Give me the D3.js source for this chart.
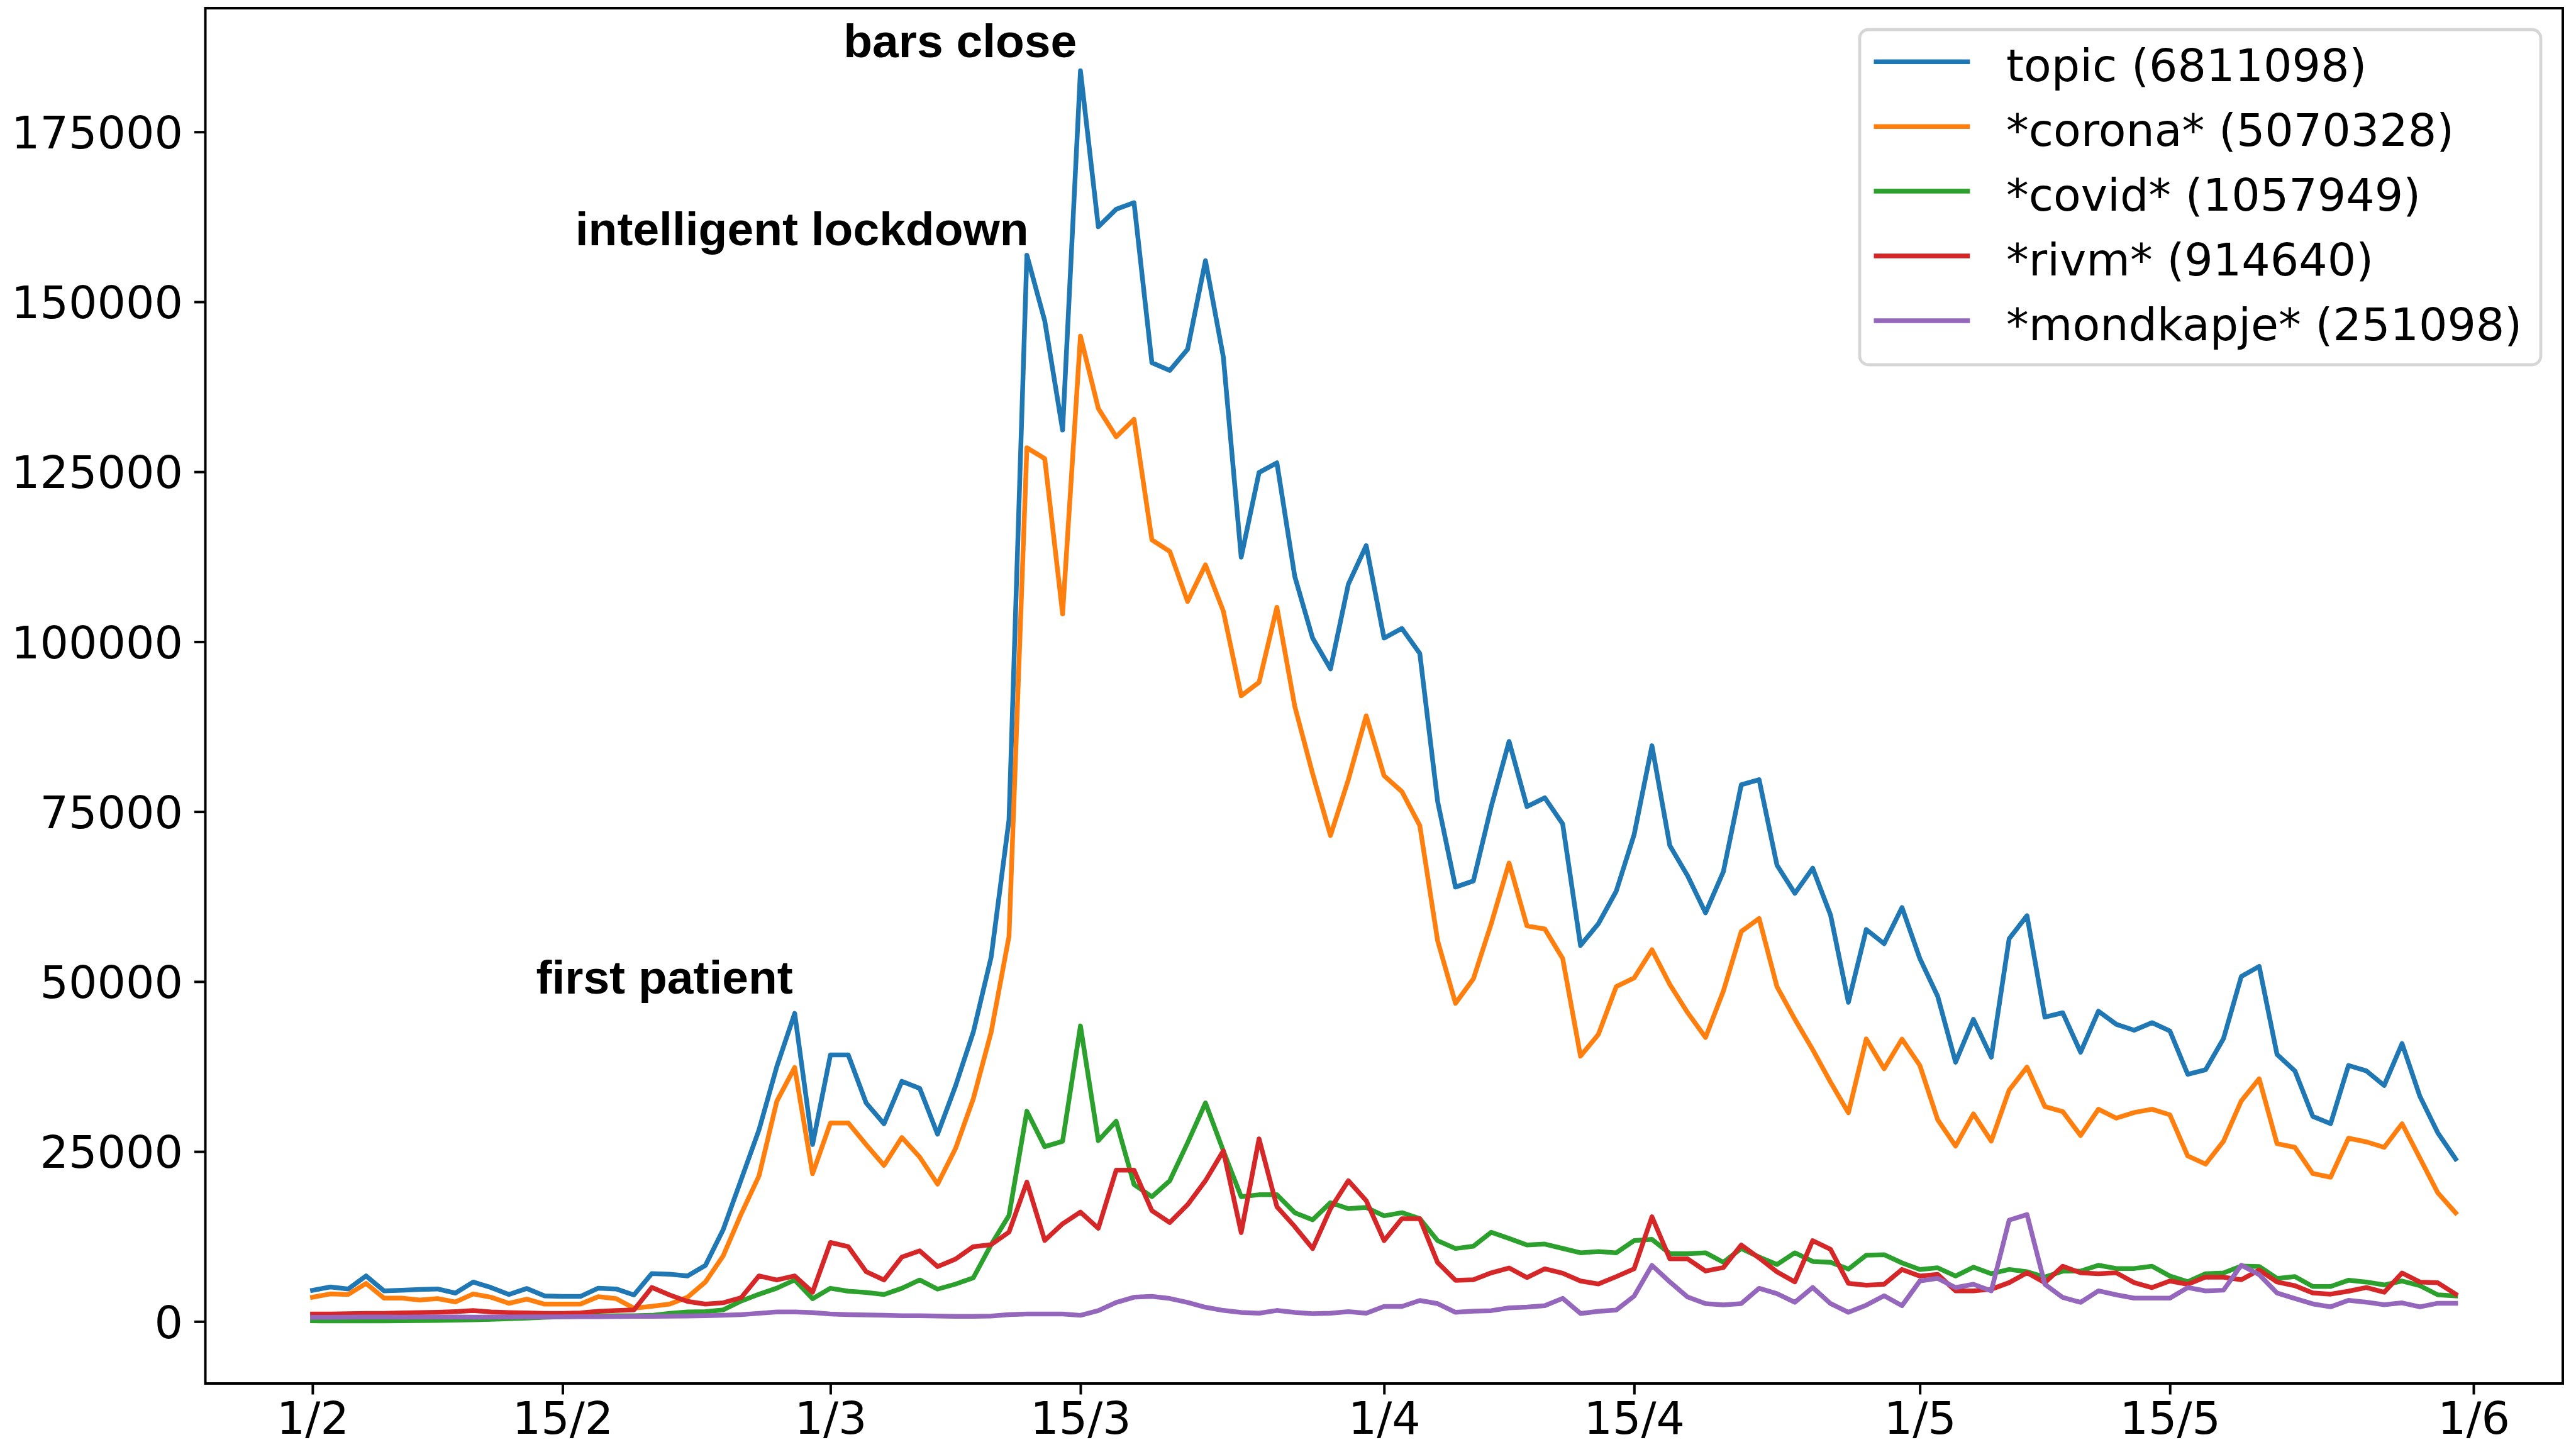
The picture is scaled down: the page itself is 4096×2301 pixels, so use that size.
<!DOCTYPE html>
<html>
<head>
<meta charset="utf-8">
<style>
  body { margin: 0; background: #fff; }
  .tick text { font-family: "DejaVu Sans", sans-serif; font-size: 71.5px; fill: #000; }
  .note { font-family: "Liberation Sans", Arial, sans-serif; font-weight: bold; font-size: 75px; }
  .legend text { font-family: "DejaVu Sans", sans-serif; font-size: 71.5px; }
</style>
<script src="https://cdn.jsdelivr.net/npm/d3@7"></script>
</head>
<body>
<script>
// daily counts, 1 Feb 2020 .. 31 May 2020
var startDay = "2020-02-01";

var topic = [4580, 5070, 4780, 6700, 4500, 4580, 4700, 4780, 4170, 5800,
  4990, 3970, 4850, 3760, 3680, 3680, 4900, 4780, 3900, 7050,
  6950, 6700, 8240, 13530, 20850, 28170, 37500, 45320, 26020, 39200,
  39200, 32150, 29080, 35330, 34290, 27550, 34600, 42560, 53600, 73820,
  156860, 147200, 131140, 184000, 161040, 163620, 164580, 141040, 139900, 143020,
  156050, 141890, 112430, 124890, 126310, 109600, 100530, 96000, 108460, 114130,
  100530, 101950, 98270, 76500, 63900, 64800, 75750, 85330, 75750, 77030,
  73200, 55320, 58510, 63300, 71600, 84690, 70000, 65540, 60110, 66170,
  78950, 79710, 67130, 62980, 66680, 59790, 46940, 57650, 55570, 60900,
  53390, 47820, 38140, 44440, 38870, 56300, 59690, 44780, 45410, 39600,
  45650, 43710, 42840, 43950, 42740, 36350, 37030, 41600, 50760, 52230,
  39270, 36860, 30170, 29090, 37660, 36860, 34720, 40880, 33110, 27760, 23900];

var corona = [3560, 4050, 3970, 5600, 3440, 3440, 3160, 3360, 2870, 4050,
  3560, 2670, 3280, 2550, 2550, 2550, 3640, 3360, 1940, 2220,
  2550, 3560, 5800, 9670, 15800, 21400, 32400, 37360, 21730, 29200,
  29200, 26020, 22950, 27060, 24180, 20200, 25410, 32760, 42560, 56660,
  128530, 126940, 104090, 144950, 134320, 130140, 132710, 114980, 113280, 105920,
  111300, 104500, 92040, 94020, 105060, 90500, 80580, 71480, 79700, 89100,
  80290, 77940, 72950, 56000, 46800, 50400, 58510, 67450, 58190, 57740,
  53400, 39030, 42230, 49250, 50530, 54680, 49570, 45420, 41780, 48610,
  57360, 59280, 49250, 44460, 39990, 35200, 30700, 41560, 37180, 41530,
  37660, 29670, 25800, 30540, 26530, 34030, 37420, 31610, 30880, 27350,
  31220, 29910, 30740, 31220, 30400, 24350, 23140, 26500, 32450, 35700,
  26150, 25610, 21760, 21220, 26950, 26420, 25610, 29090, 24010, 18920, 15970];

var covid = [90, 80, 70, 80, 90, 100, 120, 150, 200, 250,
  300, 400, 500, 600, 700, 750, 800, 850, 850, 900,
  1200, 1400, 1450, 1700, 3000, 4000, 4900, 6100, 3350, 4880,
  4450, 4270, 3960, 4880, 6100, 4750, 5490, 6410, 11300, 15600,
  30920, 25710, 26510, 43480, 26600, 29450, 20150, 18350, 20700, 26280,
  32150, 25100, 18350, 18640, 18640, 16000, 14950, 17470, 16590, 16770,
  15540, 16000, 15120, 11890, 10730, 11070, 13120, 12210, 11250, 11380,
  10740, 10100, 10290, 10100, 11890, 12080, 9980, 9980, 10100, 8700,
  10740, 9470, 8380, 10100, 8830, 8700, 7700, 9740, 9820, 8610,
  7650, 7890, 6680, 7980, 7020, 7650, 7310, 6530, 7400, 7400,
  8270, 7790, 7790, 8130, 6680, 5850, 7020, 7140, 8150, 8090,
  6330, 6600, 5150, 5150, 6060, 5800, 5370, 5950, 5260, 3920, 3760];

var rivm = [1100, 1100, 1150, 1200, 1200, 1250, 1300, 1350, 1450, 1600,
  1400, 1300, 1250, 1200, 1200, 1250, 1500, 1600, 1700, 5000,
  3900, 2950, 2550, 2750, 3500, 6700, 6100, 6700, 4300, 11620,
  11000, 7330, 6100, 9470, 10390, 8070, 9170, 11000, 11300, 13150,
  20500, 11920, 14370, 16090, 13700, 22250, 22250, 16300, 14540, 17180,
  20700, 25100, 13070, 26860, 16880, 13950, 10720, 16590, 20700, 17770,
  11890, 15120, 15120, 8660, 6050, 6140, 7150, 7870, 6460, 7740,
  7100, 5950, 5510, 6590, 7740, 15400, 9210, 9210, 7420, 7930,
  11250, 9340, 7290, 5820, 11890, 10610, 5600, 5330, 5470, 7650,
  6680, 6920, 4500, 4500, 4740, 5710, 7160, 5710, 8130, 7160,
  7020, 7160, 5710, 4980, 5950, 5470, 6530, 6500, 6130, 7580,
  5800, 5260, 4190, 4020, 4450, 4990, 4290, 7130, 5800, 5690, 4020];

var mondkapje = [600, 620, 640, 650, 650, 640, 650, 660, 650, 640,
  650, 660, 680, 680, 690, 700, 700, 720, 740, 760,
  780, 800, 850, 900, 1000, 1200, 1400, 1400, 1300, 1100,
  1000, 950, 900, 850, 850, 800, 750, 750, 800, 1000,
  1100, 1100, 1100, 900, 1600, 2790, 3560, 3680, 3380, 2790,
  2090, 1620, 1330, 1210, 1620, 1330, 1150, 1210, 1450, 1210,
  2200, 2200, 3080, 2620, 1340, 1520, 1590, 2000, 2120, 2320,
  3400, 1170, 1490, 1680, 3720, 8250, 5820, 3590, 2630, 2440,
  2630, 4870, 4100, 2810, 4990, 2630, 1350, 2400, 3780, 2320,
  5950, 6340, 4980, 5470, 4500, 14900, 15730, 5470, 3530, 2810,
  4500, 3920, 3430, 3430, 3430, 4980, 4500, 4600, 8280, 6890,
  4190, 3380, 2580, 2150, 3110, 2840, 2460, 2730, 2150, 2680, 2680];

var seriesLabels = ["topic (6811098)", "*corona* (5070328)", "*covid* (1057949)",
  "*rivm* (914640)", "*mondkapje* (251098)"];
var colors = ["#1f77b4", "#ff7f0e", "#2ca02c", "#d62728", "#9467bd"];

var xTicks = ["2020-02-01", "2020-02-15", "2020-03-01", "2020-03-15", "2020-04-01",
  "2020-04-15", "2020-05-01", "2020-05-15", "2020-06-01"];
var yTicks = [0, 25000, 50000, 75000, 100000, 125000, 150000, 175000];

// annotations: text, day after start, value of the text baseline
var notes = ["first patient", "intelligent lockdown", "bars close"];
var noteDays = [26.9, 40.1, 42.8];
var noteValues = [48200, 158350, 185970];

var W = 4096, H = 2301;
// plot box (window.top is read-only, so no "top" here)
var pLeft = 326.5, pRight = 4075, pTop = 13, pBottom = 2200;
var DAY = 864e5;
var t0 = Date.parse(startDay);

var allSeries = [topic, corona, covid, rivm, mondkapje];

var svg = d3.select("body").append("svg")
  .attr("width", W)
  .attr("height", H)
  .style("background", "#fff");

// matplotlib-like 5% margins
var n = topic.length;
var xPad = (n - 1) * 0.05;
var x = d3.scaleUtc()
  .domain([new Date(t0 - xPad * DAY), new Date(t0 + (n - 1 + xPad) * DAY)])
  .range([pLeft, pRight]);

var yMin = d3.min(allSeries, function(s) { return d3.min(s); });
var yMax = d3.max(allSeries, function(s) { return d3.max(s); });
var yPad = (yMax - yMin) * 0.05;
var y = d3.scaleLinear()
  .domain([yMin - yPad, yMax + yPad])
  .range([pBottom, pTop]);

svg.append("clipPath").attr("id", "plotclip")
  .append("rect")
  .attr("x", pLeft).attr("y", pTop)
  .attr("width", pRight - pLeft).attr("height", pBottom - pTop);

var line = d3.line()
  .x(function(d, i) { return x(new Date(t0 + i * DAY)); })
  .y(function(d) { return y(d); });

svg.append("g").attr("clip-path", "url(#plotclip)")
  .selectAll("path")
  .data(allSeries)
  .enter()
  .append("path")
  .attr("d", line)
  .attr("fill", "none")
  .attr("stroke", function(d, i) { return colors[i]; })
  .attr("stroke-width", 7.5)
  .attr("stroke-linejoin", "round")
  .attr("stroke-linecap", "square");

// axes
var xAxis = d3.axisBottom(x)
  .tickValues(xTicks.map(function(s) { return new Date(Date.parse(s)); }))
  .tickFormat(function(d) { return d.getUTCDate() + "/" + (d.getUTCMonth() + 1); })
  .tickSize(17.5)
  .tickPadding(11.5);

var yAxis = d3.axisLeft(y)
  .tickValues(yTicks)
  .tickFormat(d3.format("d"))
  .tickSize(17.5)
  .tickPadding(18);

var gx = svg.append("g").attr("transform", "translate(0," + pBottom + ")").call(xAxis);
var gy = svg.append("g").attr("transform", "translate(" + pLeft + ",0)").call(yAxis);
[gx, gy].forEach(function(g) {
  g.select(".domain").remove();
  g.selectAll(".tick line").attr("stroke", "#000").attr("stroke-width", 4);
});
gy.selectAll(".tick text").attr("dy", "0.36em");

// frame
svg.append("rect")
  .attr("x", pLeft).attr("y", pTop)
  .attr("width", pRight - pLeft).attr("height", pBottom - pTop)
  .attr("fill", "none")
  .attr("stroke", "#000")
  .attr("stroke-width", 4);

// annotations
svg.selectAll(".note")
  .data(notes)
  .enter()
  .append("text")
  .attr("class", "note")
  .attr("text-anchor", "end")
  .attr("x", function(d, i) { return x(new Date(t0 + noteDays[i] * DAY)); })
  .attr("y", function(d, i) { return y(noteValues[i]); })
  .text(function(d) { return d; });

// legend
var lg = svg.append("g").attr("class", "legend");
lg.append("rect")
  .attr("x", 2957).attr("y", 47)
  .attr("width", 1083).attr("height", 533)
  .attr("rx", 14).attr("ry", 14)
  .attr("fill", "#fff").attr("fill-opacity", 0.8)
  .attr("stroke", "#ccc").attr("stroke-opacity", 0.8)
  .attr("stroke-width", 4.8);

var rows = lg.selectAll(".row")
  .data(seriesLabels)
  .enter()
  .append("g")
  .attr("transform", function(d, i) { return "translate(0," + (98.3 + i * 102.9) + ")"; });

rows.append("line")
  .attr("x1", 2979.5).attr("x2", 3132.3)
  .attr("y1", 0).attr("y2", 0)
  .attr("stroke", function(d, i) { return colors[i]; })
  .attr("stroke-width", 7.5);

rows.append("text")
  .attr("x", 3190)
  .attr("y", 31)
  .text(function(d) { return d; });
</script>
</body>
</html>
